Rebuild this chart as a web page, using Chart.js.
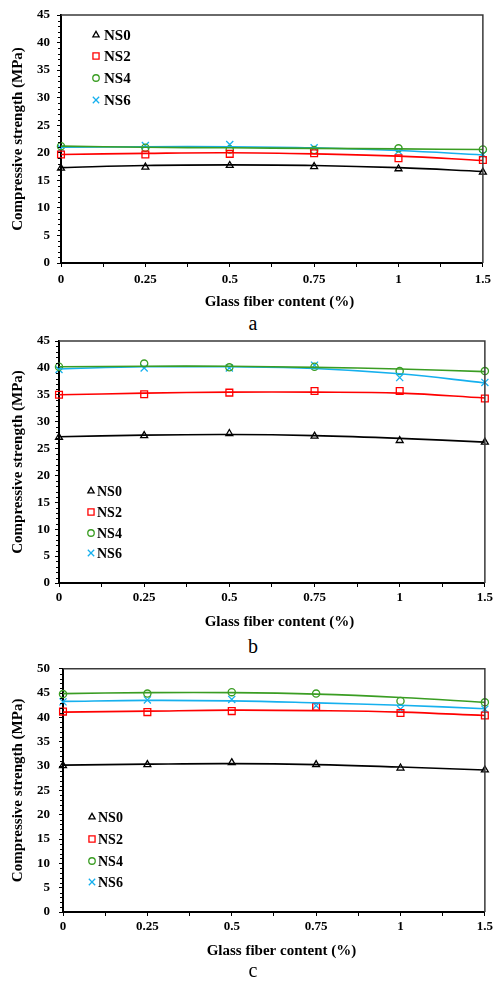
<!DOCTYPE html>
<html>
<head>
<meta charset="utf-8">
<script src="https://cdn.jsdelivr.net/npm/chart.js@4.4.1/dist/chart.umd.min.js"></script>
<style>
  html, body { margin: 0; padding: 0; background: #fff; }
  #wrap { position: relative; width: 496px; height: 981px; overflow: hidden; }
  .box { position: absolute; left: 0; width: 496px; }
  .cap { position: absolute; left: 0; width: 486px; padding-left: 10px; text-align: center;
         font: 20px/20px "Liberation Serif", "Times New Roman", serif; color: #000; }
</style>
</head>
<body>
<div id="wrap">
  <div class="box" style="top:0;height:312px"><canvas id="chart-a"></canvas></div>
  <div class="cap" style="top:313px">a</div>
  <div class="box" style="top:328px;height:304px"><canvas id="chart-b"></canvas></div>
  <div class="cap" style="top:636px">b</div>
  <div class="box" style="top:652px;height:309px"><canvas id="chart-c"></canvas></div>
  <div class="cap" style="top:960px">c</div>
</div>
<script>
// ── Data ────────────────────────────────────────────────────────────────────
const fiberLabels = ['0', '0.25', '0.5', '0.75', '1', '1.5'];
const seriesNames = ['NS0', 'NS2', 'NS4', 'NS6'];

// (a) measured points and trend curves
const ns0A  = [17.2, 17.4, 17.7, 17.5, 17.1, 16.5];
const ns2A  = [19.7, 19.7, 19.8, 19.9, 19.0, 18.7];
const ns4A  = [21.2, 20.9, 20.6, 20.5, 20.8, 20.6];
const ns6A  = [20.8, 21.3, 21.5, 20.9, 20.3, 19.7];
const fit0A = [17.3, 17.7, 17.8, 17.7, 17.3, 16.6];
const fit2A = [19.7, 19.9, 20.0, 19.8, 19.4, 18.6];
const fit4A = [21.2, 21.0, 20.9, 20.8, 20.7, 20.6];
const fit6A = [21.0, 21.1, 21.1, 20.9, 20.4, 19.6];

// (b)
const ns0B  = [27.1, 27.4, 27.8, 27.3, 26.5, 26.2];
const ns2B  = [35.0, 35.1, 35.4, 35.7, 35.7, 34.3];
const ns4B  = [40.2, 40.8, 40.1, 40.2, 39.4, 39.4];
const ns6B  = [39.7, 40.0, 40.0, 40.5, 38.2, 37.3];
const fit0B = [27.2, 27.5, 27.6, 27.4, 26.9, 26.2];
const fit2B = [35.0, 35.3, 35.5, 35.5, 35.3, 34.4];
const fit4B = [40.2, 40.3, 40.3, 40.1, 39.8, 39.3];
const fit6B = [39.8, 40.2, 40.2, 39.9, 38.9, 37.2];

// (c)
const ns0C  = [30.1, 30.3, 30.7, 30.3, 29.6, 29.2];
const ns2C  = [41.2, 41.1, 41.3, 42.2, 40.9, 40.4];
const ns4C  = [44.8, 44.9, 45.2, 44.9, 43.4, 43.1];
const ns6C  = [43.2, 43.6, 43.7, 42.4, 41.7, 41.7];
const fit0C = [30.2, 30.4, 30.5, 30.3, 29.8, 29.2];
const fit2C = [41.1, 41.3, 41.5, 41.4, 41.1, 40.4];
const fit4C = [44.9, 45.1, 45.1, 44.8, 44.1, 43.1];
const fit6C = [43.3, 43.5, 43.4, 43.0, 42.5, 41.8];

// ── Styles ──────────────────────────────────────────────────────────────────
const colors  = ['#000000', '#ff0000', '#3a9d23', '#16b0ee'];
const markers = ['triangle', 'rect', 'circle', 'crossRot'];
const radii   = [4, 4.8, 3.6, 5];
const FONT = '"Liberation Serif", "Times New Roman", serif';

// ── Plugins ─────────────────────────────────────────────────────────────────
const framePlugin = {
  id: 'frame',
  afterDraw(chart) {
    const { ctx, chartArea: a, scales } = chart;
    ctx.save();
    // top and right border
    ctx.strokeStyle = '#3a3a3a';
    ctx.lineWidth = 1.5;
    ctx.beginPath();
    ctx.moveTo(a.left, a.top);
    ctx.lineTo(a.right, a.top);
    ctx.lineTo(a.right, a.bottom);
    ctx.stroke();
    // minor ticks on the y axis
    const y = scales.y;
    ctx.strokeStyle = '#000';
    ctx.lineWidth = 1;
    for (let v = y.min; v <= y.max; v++) {
      if (v % 5 === 0) continue;
      const py = Math.round(y.getPixelForValue(v)) + 0.5;
      ctx.beginPath();
      ctx.moveTo(a.left - 3, py);
      ctx.lineTo(a.left, py);
      ctx.stroke();
    }
    ctx.restore();
  },
};

function drawMarker(ctx, style, x, y, r) {
  ctx.beginPath();
  if (style === 'triangle') {
    ctx.moveTo(x, y - r);
    ctx.lineTo(x + r * 0.866, y + r * 0.5);
    ctx.lineTo(x - r * 0.866, y + r * 0.5);
    ctx.closePath();
  } else if (style === 'rect') {
    const s = r / Math.SQRT2;
    ctx.rect(x - s, y - s, 2 * s, 2 * s);
  } else if (style === 'circle') {
    ctx.arc(x, y, r, 0, Math.PI * 2);
  } else {
    const s = r * 0.707;
    ctx.moveTo(x - s, y - s); ctx.lineTo(x + s, y + s);
    ctx.moveTo(x + s, y - s); ctx.lineTo(x - s, y + s);
  }
  ctx.stroke();
}

const legendPlugin = {
  id: 'boxLegend',
  afterDraw(chart, args, opts) {
    const { ctx } = chart;
    ctx.save();
    ctx.font = `bold ${opts.size}px ${FONT}`;
    ctx.textBaseline = 'middle';
    ctx.textAlign = 'left';
    seriesNames.forEach((name, i) => {
      const y = opts.ys[i];
      ctx.strokeStyle = colors[i];
      ctx.lineWidth = 1.3;
      drawMarker(ctx, markers[i], opts.x, y, radii[i] * 0.9);
      ctx.fillStyle = '#000';
      ctx.fillText(name, opts.textX, y + 1);
    });
    ctx.restore();
  },
};

// ── Chart builder ───────────────────────────────────────────────────────────
function toPoints(arr) {
  return arr.map((v, i) => ({ x: i, y: v }));
}

function makeChart(id, points, fits, L) {
  const datasets = [];
  fits.forEach((arr, i) => {
    datasets.push({
      label: seriesNames[i] + ' trend',
      data: toPoints(arr),
      borderColor: colors[i],
      borderWidth: 1.6,
      pointRadius: 0,
      tension: 0.4,
      fill: false,
    });
  });
  points.forEach((arr, i) => {
    datasets.push({
      label: seriesNames[i],
      data: toPoints(arr),
      showLine: false,
      pointStyle: markers[i],
      pointRadius: radii[i],
      pointBorderWidth: 1.3,
      pointBorderColor: colors[i],
      pointBackgroundColor: 'rgba(0,0,0,0)',
      clip: false,
    });
  });

  return new Chart(document.getElementById(id), {
    type: 'line',
    data: { datasets },
    options: {
      responsive: true,
      maintainAspectRatio: false,
      animation: false,
      layout: { padding: { top: L.top, right: L.right, left: 0, bottom: 0 } },
      plugins: {
        legend: { display: false },
        tooltip: { enabled: false },
        boxLegend: L.legend,
      },
      scales: {
        x: {
          type: 'linear',
          min: 0,
          max: fiberLabels.length - 1,
          afterFit: s => { s.height = 49; },
          ticks: {
            stepSize: 0.5,
            autoSkip: false,
            maxRotation: 0,
            padding: L.xPad,
            color: '#000',
            font: { family: FONT, size: 13, weight: 'bold' },
            callback: v => Number.isInteger(v) ? fiberLabels[v] : '',
          },
          grid: { drawOnChartArea: false, tickLength: 4, tickColor: '#000' },
          border: { color: '#000', width: 2 },
          title: {
            display: true,
            // leading spaces nudge the title right like the original
            text: '    Glass fiber content (%)',
            color: '#000',
            font: { family: FONT, size: 15, weight: 'bold' },
            padding: { top: 0, bottom: 1 },
          },
        },
        y: {
          min: 0,
          max: L.yMax,
          afterFit: s => { s.width = L.yWidth; },
          ticks: {
            stepSize: 5,
            padding: L.yPad,
            color: '#000',
            font: { family: FONT, size: 13, weight: 'bold' },
          },
          grid: { drawOnChartArea: false, tickLength: 4, tickColor: '#000' },
          border: { color: '#000', width: 2 },
          title: {
            display: true,
            text: 'Compressive strength (MPa)',
            color: '#000',
            font: { family: FONT, size: 15, weight: 'bold' },
            padding: { top: 9, bottom: 0 },
          },
        },
      },
    },
    plugins: [framePlugin, legendPlugin],
  });
}

makeChart('chart-a',
  [ns0A, ns2A, ns4A, ns6A], [fit0A, fit2A, fit4A, fit6A],
  { top: 15, right: 13, yWidth: 61, yMax: 45, xPad: 5, yPad: 7,
    legend: { x: 96, textX: 104, ys: [35, 56, 78, 100], size: 15 } });

makeChart('chart-b',
  [ns0B, ns2B, ns4B, ns6B], [fit0B, fit2B, fit4B, fit6B],
  { top: 13, right: 8, yWidth: 59, yMax: 45, xPad: 3, yPad: 5,
    legend: { x: 91, textX: 97, ys: [163, 184, 205, 225], size: 14 } });

makeChart('chart-c',
  [ns0C, ns2C, ns4C, ns6C], [fit0C, fit2C, fit4C, fit6C],
  { top: 13, right: 9, yWidth: 63, yMax: 50, xPad: 3, yPad: 9,
    legend: { x: 92, textX: 98, ys: [165, 187, 209, 230], size: 14 } });
</script>
</body>
</html>
